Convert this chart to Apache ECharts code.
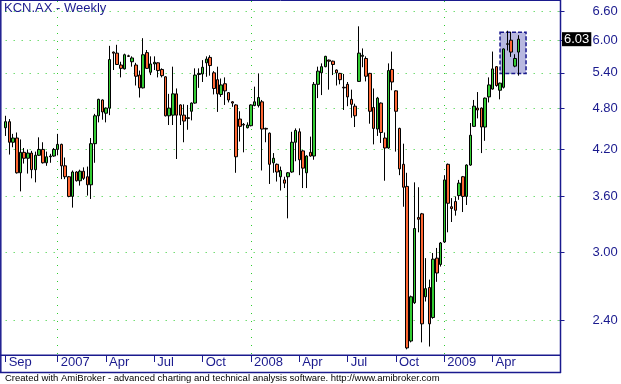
<!DOCTYPE html>
<html><head><meta charset="utf-8">
<script src="https://cdn.jsdelivr.net/npm/echarts@6/dist/echarts.min.js"></script>
<style>html,body{margin:0;padding:0;background:#fff}#c{width:621px;height:384px}</style>
</head><body><div id="c"></div><script>
// ---- data ----
const chartTitle = 'KCN.AX - Weekly';
const footerText = 'Created with AmiBroker - advanced charting and technical analysis software. http://www.amibroker.com';
const firstWeek = [2006, 8, 29];   // first weekly bar (Fri 29 Sep 2006)
const totalSlots = 150;            // bars + blank space at right
const monthNames = ['Jan','Feb','Mar','Apr','May','Jun','Jul','Aug','Sep','Oct','Nov','Dec'];
const yTicks = [2.4, 3.0, 3.6, 4.2, 4.8, 5.4, 6.0, 6.6];
const lastClose = 6.03;
const selBox = { fromBar: 133, toBar: 140, top: 6.17, bottom: 5.39 };

const opens = [4.51,4.60,4.30,4.36,3.89,4.16,4.08,4.15,3.93,4.12,4.20,4.02,4.10,4.11,4.20,4.27,3.98,3.84,3.60,3.90,
3.79,3.91,3.84,3.74,4.28,4.69,4.94,4.73,4.81,5.78,5.76,5.54,5.47,5.71,5.60,5.54,5.36,5.14,5.77,5.41,
5.56,5.58,5.46,5.33,4.69,4.70,5.04,4.86,4.70,4.66,4.76,4.89,5.37,5.38,5.58,5.68,5.40,5.28,5.03,5.21,
5.06,4.91,4.86,4.64,4.56,4.51,4.54,4.85,4.85,4.91,4.50,4.43,4.02,4.00,3.84,3.80,3.84,3.90,4.30,4.45,
4.18,3.89,4.16,4.11,5.20,5.40,5.51,5.63,5.61,5.45,5.39,5.15,5.20,4.95,4.84,5.25,5.70,5.66,5.39,4.82,
4.49,4.89,4.36,4.22,5.46,5.09,4.50,4.00,3.72,2.24,2.54,3.36,3.40,2.59,2.67,2.42,2.94,2.88,3.10,4.00,
3.48,3.54,3.61,3.84,3.60,3.99,4.53,4.81,4.81,4.52,4.99,5.12,5.51,5.10,5.15,5.94,6.01,5.52,5.78];
const closes = [4.60,4.30,4.36,3.89,4.16,4.08,4.15,3.93,4.12,4.20,4.02,4.10,4.11,4.20,4.27,3.98,3.84,3.60,3.90,3.79,
3.91,3.82,3.74,4.28,4.69,4.95,4.75,4.81,5.64,5.76,5.55,5.48,5.73,5.70,5.67,5.34,5.14,5.73,5.48,5.56,
5.59,5.44,5.35,4.69,4.81,5.04,4.70,4.70,4.61,4.65,4.89,5.36,5.39,5.50,5.65,5.53,5.13,5.04,5.19,5.09,
4.94,4.89,4.10,4.53,4.55,4.55,4.86,4.91,4.98,4.49,4.49,4.00,4.08,3.90,3.92,3.76,3.89,4.30,4.47,4.06,
3.95,4.11,4.11,5.20,5.43,5.51,5.70,5.61,5.55,5.40,5.28,5.14,4.99,4.87,4.69,5.76,5.72,5.34,4.76,4.50,
4.97,4.44,4.22,5.44,5.24,4.76,3.94,3.71,2.19,2.59,3.24,3.34,2.37,2.66,2.37,2.93,2.80,3.09,3.80,3.52,
3.46,3.44,3.76,3.60,3.99,4.40,4.84,4.78,4.52,4.97,5.19,5.47,5.18,5.22,5.84,5.93,5.78,5.66,6.03];
const lows = [4.39,4.13,4.23,3.88,3.66,4.01,3.88,3.82,3.77,4.11,4.01,3.98,4.02,4.10,4.12,3.81,3.81,3.59,3.47,3.78,
3.73,3.80,3.61,3.57,4.02,4.59,4.63,4.59,4.70,5.45,5.54,5.32,5.46,5.69,5.51,5.18,4.98,5.13,5.47,5.36,
5.45,5.32,5.32,4.68,4.55,4.55,4.07,4.55,4.30,4.48,4.62,4.88,5.14,5.24,5.33,5.35,5.03,4.75,4.99,4.86,
4.90,4.83,3.89,4.31,4.16,4.50,4.53,4.84,4.82,3.92,4.30,3.75,3.89,3.78,3.67,3.70,3.35,3.89,4.04,3.86,
3.70,3.70,4.10,4.06,4.97,5.02,5.50,5.11,5.36,5.18,5.20,4.78,4.84,4.66,4.52,5.24,5.50,5.25,4.57,4.27,
4.39,4.29,3.79,4.21,5.10,4.17,3.86,3.48,2.18,2.23,2.53,3.20,2.23,2.55,2.20,2.41,2.72,2.86,3.09,3.20,
3.31,3.38,3.56,3.42,3.50,3.98,4.52,4.65,4.15,4.32,4.90,5.11,5.16,4.95,5.13,5.81,5.69,5.50,5.35];
const highs = [4.69,4.64,4.42,4.44,4.34,4.22,4.20,4.18,4.17,4.37,4.30,4.17,4.14,4.22,4.42,4.28,4.09,3.85,3.92,3.91,
3.93,3.96,3.97,4.36,4.72,4.96,4.95,4.82,5.90,5.79,5.92,5.60,5.75,5.73,5.70,5.58,5.44,6.05,5.82,5.70,
5.70,5.59,5.48,5.34,5.04,5.51,5.13,4.87,4.87,4.86,4.90,5.48,5.48,5.63,5.70,5.72,5.43,5.51,5.30,5.32,
5.07,4.92,4.87,4.76,4.58,4.59,4.87,5.16,5.39,4.94,4.51,4.44,4.15,4.01,3.97,3.84,3.90,4.45,4.50,4.50,
4.19,4.12,4.38,5.24,5.51,5.57,5.71,5.64,5.62,5.46,5.40,5.38,5.24,5.11,4.88,6.29,5.85,5.70,5.40,5.13,
4.99,4.90,4.44,5.57,5.79,5.10,4.51,4.28,3.89,2.60,3.77,3.71,3.41,2.94,2.74,2.99,3.04,3.10,3.86,4.01,
3.58,3.60,3.80,3.85,4.00,4.58,4.94,5.07,4.82,4.98,5.32,5.79,5.52,5.23,5.85,6.20,6.18,5.74,6.11];

// ---- derived ----
const categories = [];
const t0 = Date.UTC(firstWeek[0], firstWeek[1], firstWeek[2]);
for (let i = 0; i < totalSlots; i++) {
  categories.push(new Date(t0 + i * 7 * 86400000).toISOString().slice(0, 10));
}
const labelIdx = new Set();
const yearIdx = new Set();
categories.forEach((c, i) => {
  const d = new Date(c + 'T00:00:00Z');
  const m = d.getUTCMonth();
  const firstOfMonth = d.getUTCDate() <= 7;
  if (i >= opens.length) return;
  if (i === 0 || (i >= 5 && firstOfMonth && m % 3 === 0)) labelIdx.add(i);
  if (i > 0 && firstOfMonth && m === 0) yearIdx.add(i);
});
const candleData = opens.map((o, i) => [o, closes[i], lows[i], highs[i]]);

const navy = '#1a1a8e';
const grid = { left: 5.66, right: 61.5, top: 1, bottom: 29 };
const dotGreen = '#2ecc2e';
const font = 'Liberation Sans, Arial, sans-serif';

const chart = echarts.init(document.getElementById('c'), null, { renderer: 'canvas' });
chart.setOption({
  animation: false,
  backgroundColor: '#fff',
  grid: grid,
  xAxis: {
    type: 'category', data: categories, boundaryGap: false,
    axisLine: { show: false },
    axisTick: { show: true, interval: (i) => labelIdx.has(i), length: 7, lineStyle: { color: navy, width: 1 } },
    axisLabel: {
      interval: (i) => labelIdx.has(i),
      formatter: (v) => { const d = new Date(v + 'T00:00:00Z'); return d.getUTCMonth() === 0 ? String(d.getUTCFullYear()) : monthNames[d.getUTCMonth()]; },
      color: navy, fontSize: 13, fontFamily: font, align: 'left', padding: [0, 0, 0, 3], margin: 1
    },
    splitLine: { show: true, interval: (i) => yearIdx.has(i), lineStyle: { color: dotGreen, width: 1, type: [1, 7] } }
  },
  yAxis: {
    type: 'log', logBase: 10, min: 2.1396, max: 6.835, position: 'right', scale: true,
    axisLine: { show: false },
    axisTick: { show: true, customValues: yTicks, length: 5, lineStyle: { color: navy, width: 1 } },
    axisLabel: { customValues: yTicks, formatter: (v) => Number(v).toFixed(2), margin: 33, color: navy, fontSize: 13, fontFamily: font },
    splitLine: { show: true, lineStyle: { color: dotGreen, width: 1, type: [1, 7] } }
  },
  series: [{
    type: 'candlestick', data: candleData, barWidth: 3, clip: false,
    itemStyle: { color: '#33cc33', color0: '#ff6633', borderColor: '#000', borderColor0: '#000', borderWidth: 1 },
    markArea: {
      silent: true,
      itemStyle: { color: '#b8b8e0', opacity: 1, borderColor: navy, borderWidth: 1.5, borderType: [4, 2] },
      data: [[{ xAxis: categories[selBox.fromBar], yAxis: selBox.top }, { xAxis: categories[selBox.toBar], yAxis: selBox.bottom }]]
    },
    markLine: {
      silent: true, symbol: 'none', animation: false,
      lineStyle: { color: 'rgba(0,0,0,0)', width: 0 },
      label: { show: true, position: 'end', distance: 2.5, formatter: (p) => Number(p.value).toFixed(2), color: '#fff', backgroundColor: '#000', padding: [1, 2, 0, 2], fontSize: 13, fontFamily: font },
      data: [{ yAxis: lastClose }]
    }
  }],
  graphic: [
    { type: 'line', shape: { x1: 0.8, y1: 0, x2: 0.8, y2: 373 }, style: { stroke: navy, lineWidth: 1.5 } },
    { type: 'line', shape: { x1: 0, y1: 0.5, x2: 561, y2: 0.5 }, style: { stroke: navy, lineWidth: 1 } },
    { type: 'line', shape: { x1: 560.5, y1: 0, x2: 560.5, y2: 373 }, style: { stroke: navy, lineWidth: 1.5 } },
    { type: 'line', shape: { x1: 0, y1: 355.2, x2: 561, y2: 355.2 }, style: { stroke: navy, lineWidth: 1.5 } },
    { type: 'line', shape: { x1: 0, y1: 372.5, x2: 561, y2: 372.5 }, style: { stroke: navy, lineWidth: 1.5 } },
    { type: 'text', left: 4, top: 2, style: { text: chartTitle, fill: navy, font: '13px ' + font } },
    { type: 'text', left: 5, top: 373.5, style: { text: footerText, fill: '#000', font: '9.5px ' + font } }
  ]
});
</script></body></html>
